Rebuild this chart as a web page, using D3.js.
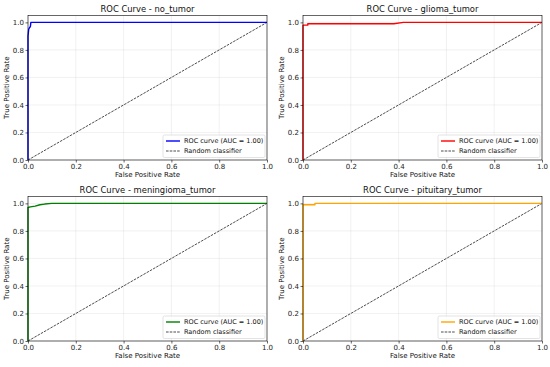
<!DOCTYPE html>
<html>
<head>
<meta charset="utf-8">
<script src="https://d3js.org/d3.v7.min.js"></script>
<style>
  body { margin: 0; background: #fff; }
  svg { display: block; font-family: 'DejaVu Sans', sans-serif; }
  .tick text { fill: #222; }
</style>
</head>
<body>
<div id="holder"></div>
<script>
  // Data: ROC curve points
  const classes = ['no_tumor', 'glioma_tumor', 'meningioma_tumor', 'pituitary_tumor'];
  const colors = ['#0000ff', '#ff0000', '#008000', '#ffa500'];
  const aucs = [1.00, 1.00, 1.00, 1.00];
  const fprNo = [0, 0, 0.003, 0.006, 0.01, 0.012, 1];
  const tprNo = [0, 0.9, 0.95, 0.96, 0.97, 1.0, 1.0];
  const fprGlioma = [0, 0, 0, 0.02, 0.02, 0.38, 0.42, 1];
  const tprGlioma = [0, 0.96, 0.98, 0.98, 0.99, 0.99, 1.0, 1.0];
  const fprMenin = [0, 0, 0, 0.01, 0.03, 0.05, 0.07, 0.1, 1];
  const tprMenin = [0, 0.4, 0.97, 0.975, 0.98, 0.99, 0.995, 1.0, 1.0];
  const fprPit = [0, 0, 0.05, 0.05, 1];
  const tprPit = [0, 0.99, 0.99, 1.0, 1.0];
  const fprs = [fprNo, fprGlioma, fprMenin, fprPit];
  const tprs = [tprNo, tprGlioma, tprMenin, tprPit];
  const ticks = [0, 0.2, 0.4, 0.6, 0.8, 1.0];

  const w = 550;
  const h = 367;

  // panel boxes (left, right, top, bottom)
  const panels = [
    { x0: 28, x1: 267, y0: 15.5, y1: 160 },
    { x0: 303, x1: 542, y0: 15.5, y1: 160 },
    { x0: 28, x1: 267, y0: 196.5, y1: 341 },
    { x0: 303, x1: 542, y0: 196.5, y1: 341 }
  ];

  const svg = d3.select('#holder').append('svg')
    .attr('width', w)
    .attr('height', h);

  panels.forEach((p, i) => {
    const xScale = d3.scaleLinear().domain([0, 1]).range([p.x0, p.x1]);
    const yScale = d3.scaleLinear().domain([0, 1.05]).range([p.y1, p.y0]);
    const g = svg.append('g');

    // grid
    g.selectAll('.vgrid').data(ticks).enter().append('line')
      .attr('x1', d => xScale(d)).attr('x2', d => xScale(d))
      .attr('y1', p.y0).attr('y2', p.y1)
      .attr('stroke', '#b0b0b0').attr('stroke-opacity', 0.3).attr('stroke-width', 0.6);
    g.selectAll('.hgrid').data(ticks).enter().append('line')
      .attr('y1', d => yScale(d)).attr('y2', d => yScale(d))
      .attr('x1', p.x0).attr('x2', p.x1)
      .attr('stroke', '#b0b0b0').attr('stroke-opacity', 0.3).attr('stroke-width', 0.6);

    // random classifier diagonal
    g.append('line')
      .attr('x1', xScale(0)).attr('y1', yScale(0))
      .attr('x2', xScale(1)).attr('y2', yScale(1))
      .attr('stroke', '#000').attr('stroke-width', 0.7)
      .attr('stroke-dasharray', '2.6,1.1');

    // ROC curve
    const pts = fprs[i].map((f, k) => [f, tprs[i][k]]);
    g.append('path')
      .datum(pts)
      .attr('fill', 'none')
      .attr('stroke', colors[i])
      .attr('stroke-width', 1.4)
      .attr('stroke-linejoin', 'round')
      .attr('d', d3.line().x(d => xScale(d[0])).y(d => yScale(d[1])));

    // frame
    g.append('rect')
      .attr('x', p.x0).attr('y', p.y0)
      .attr('width', p.x1 - p.x0).attr('height', p.y1 - p.y0)
      .attr('fill', 'none').attr('stroke', '#000').attr('stroke-width', 0.6);

    // axes
    const xAxis = d3.axisBottom(xScale).tickValues(ticks).tickFormat(d3.format('.1f'))
      .tickSize(2.5).tickPadding(1.5);
    const gx = g.append('g').attr('transform', 'translate(0,' + p.y1 + ')').call(xAxis);
    const yAxis = d3.axisLeft(yScale).tickValues(ticks).tickFormat(d3.format('.1f'))
      .tickSize(2.5).tickPadding(1.5);
    const gy = g.append('g').attr('transform', 'translate(' + p.x0 + ',0)').call(yAxis);
    [gx, gy].forEach(a => {
      a.select('.domain').remove();
      a.selectAll('.tick line').attr('stroke', '#000').attr('stroke-width', 0.6);
      a.selectAll('.tick text').attr('font-size', 7).attr('font-family', 'DejaVu Sans');
    });

    // title and labels
    g.append('text')
      .attr('x', (p.x0 + p.x1) / 2).attr('y', p.y0 - 4)
      .attr('text-anchor', 'middle')
      .attr('font-size', 8.4).attr('fill', '#111')
      .text('ROC Curve - ' + classes[i]);
    g.append('text')
      .attr('x', (p.x0 + p.x1) / 2).attr('y', p.y1 + 17)
      .attr('text-anchor', 'middle')
      .attr('font-size', 7).attr('fill', '#111')
      .text('False Positive Rate');
    g.append('text')
      .attr('transform', 'translate(' + (p.x0 - 19) + ',' + (p.y0 + p.y1) / 2 + ') rotate(-90)')
      .attr('text-anchor', 'middle')
      .attr('font-size', 7).attr('fill', '#111')
      .text('True Positive Rate');

    // legend
    const lx = p.x1 - 104;
    const ly = p.y1 - 25;
    const leg = g.append('g');
    leg.append('rect')
      .attr('x', lx).attr('y', ly).attr('width', 102).attr('height', 22.5)
      .attr('rx', 1.5)
      .attr('fill', '#fff').attr('fill-opacity', 0.8)
      .attr('stroke', '#d0d0d0').attr('stroke-width', 0.6);
    leg.append('line')
      .attr('x1', lx + 3).attr('x2', lx + 17)
      .attr('y1', ly + 6).attr('y2', ly + 6)
      .attr('stroke', colors[i]).attr('stroke-width', 1.4);
    leg.append('text')
      .attr('x', lx + 21).attr('y', ly + 8.3)
      .attr('font-size', 6.5).attr('fill', '#111')
      .text('ROC curve (AUC = ' + aucs[i].toFixed(2) + ')');
    leg.append('line')
      .attr('x1', lx + 3).attr('x2', lx + 17)
      .attr('y1', ly + 16).attr('y2', ly + 16)
      .attr('stroke', '#000').attr('stroke-width', 0.7)
      .attr('stroke-dasharray', '2.6,1.1');
    leg.append('text')
      .attr('x', lx + 21).attr('y', ly + 18.3)
      .attr('font-size', 6.5).attr('fill', '#111')
      .text('Random classifier');
  });
</script>
</body>
</html>
